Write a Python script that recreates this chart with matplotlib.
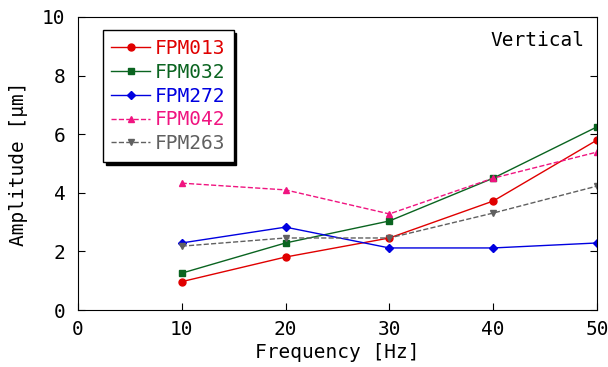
import matplotlib as mpl
mpl.use('Agg')
import matplotlib.pyplot as plt

plt.rcParams['font.family'] = ['DejaVu Sans Mono', 'Noto Sans CJK JP']

freq = [10, 20, 30, 40, 50]
fpm013 = [0.97, 1.81, 2.46, 3.72, 5.80]
fpm032 = [1.26, 2.29, 3.04, 4.50, 6.25]
fpm272 = [2.29, 2.83, 2.12, 2.12, 2.29]
fpm042 = [4.33, 4.10, 3.28, 4.50, 5.39]
fpm263 = [2.18, 2.46, 2.46, 3.31, 4.23]

fig = plt.figure(figsize=(6.08, 3.67), dpi=100)
ax = fig.add_axes([0.128, 0.155, 0.854, 0.799])

ax.plot(freq, fpm013, '-o', color='#e00000', lw=1, ms=5, label='FPM013')
ax.plot(freq, fpm032, '-s', color='#0a6420', lw=1, ms=5, label='FPM032')
ax.plot(freq, fpm272, '-D', color='#0000e0', lw=1, ms=4, label='FPM272')
ax.plot(freq, fpm042, '--^', color='#f01480', lw=1, ms=5, label='FPM042')
ax.plot(freq, fpm263, '--v', color='#606060', lw=1, ms=5, label='FPM263')

ax.set_xlim(0, 50)
ax.set_ylim(0, 10)
ax.set_xticks(range(0, 51, 10))
ax.set_yticks(range(0, 11, 2))
ax.tick_params(direction='in', labelsize=14, length=5, top=False, right=True)
ax.tick_params(axis='x', pad=7)
ax.tick_params(axis='y', pad=9)
ax.set_xlabel('Frequency [Hz]', fontsize=14, labelpad=3)
ax.set_ylabel('Amplitude [μm]', fontsize=14, labelpad=10)
ax.text(0.975, 0.92, 'Vertical', transform=ax.transAxes, ha='right', va='center', fontsize=14)

leg = ax.legend(loc='upper left', bbox_to_anchor=(0.048, 0.955), fontsize=14, frameon=True, fancybox=False,
                shadow={'color': 'black', 'alpha': 1}, edgecolor='black', handlelength=2.0,
                handletextpad=0.2, labelspacing=0.25, borderpad=0.45, borderaxespad=0)
leg.get_frame().set_linewidth(1)
for txt, line in zip(leg.get_texts(), leg.get_lines()):
    txt.set_color(line.get_color())

fig.savefig('out.png', dpi=100)
